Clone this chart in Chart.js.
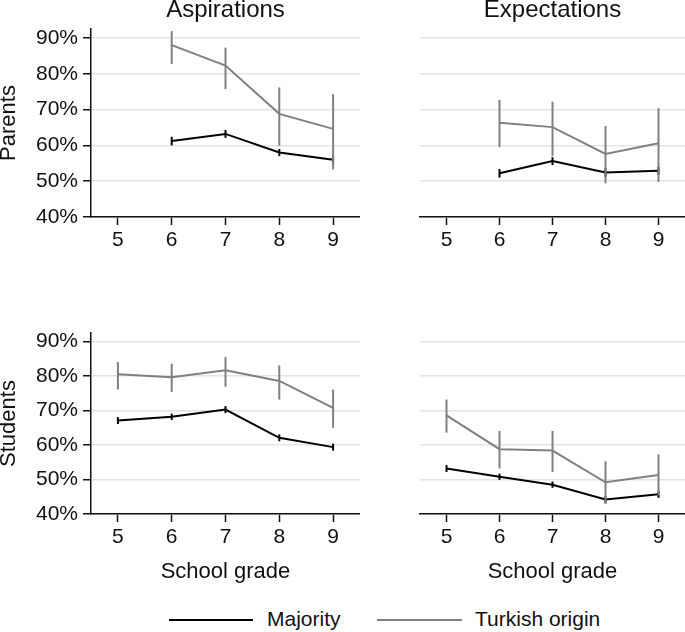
<!DOCTYPE html>
<html>
<head>
<meta charset="utf-8">
<script src="https://cdn.jsdelivr.net/npm/chart.js@4.4.1/dist/chart.umd.min.js"></script>
<style>
  body { margin: 0; background: #fff; }
  #wrap { position: relative; width: 685px; height: 632px; background: #fff; overflow: hidden;
          font-family: 'Liberation Sans', Arial, sans-serif; color: #111; }
  canvas { position: absolute; }
  .leg-line { position: absolute; height: 0; border-top: 2px solid #000; }
  .leg-text { position: absolute; font-size: 21px; line-height: 24px; }
</style>
</head>
<body>
<div id="wrap">
  <canvas id="pa" width="360" height="262" style="left:0;top:0"></canvas>
  <canvas id="pe" width="325" height="262" style="left:360px;top:0"></canvas>
  <canvas id="sa" width="360" height="300" style="left:0;top:300px"></canvas>
  <canvas id="se" width="325" height="300" style="left:360px;top:300px"></canvas>

  <div class="leg-line" style="left:169px;top:619px;width:84px;border-color:#000"></div>
  <div class="leg-text" style="left:267px;top:607px">Majority</div>
  <div class="leg-line" style="left:377px;top:619px;width:85px;border-color:#808080"></div>
  <div class="leg-text" style="left:475px;top:607px">Turkish origin</div>
</div>
<script>
// ── data ──
const gradesParents = [6, 7, 8, 9];
const gradesStudents = [5, 6, 7, 8, 9];
const xTicks = [5, 6, 7, 8, 9];
const yTicks = [40, 50, 60, 70, 80, 90];

// Parents – aspirations
const paMajority   = [61.2, 63.2, 58.0, 56.0];
const paMajorityLo = [60.0, 62.1, 57.0, 54.9];
const paMajorityHi = [62.4, 64.3, 59.0, 57.1];
const paTurkish    = [88.0, 82.3, 68.8, 64.6];
const paTurkishLo  = [82.7, 75.7, 59.9, 53.3];
const paTurkishHi  = [91.9, 87.3, 76.2, 74.3];

// Parents – expectations
const peMajority   = [52.2, 55.6, 52.4, 52.9];
const peMajorityLo = [51.0, 54.5, 51.2, 51.8];
const peMajorityHi = [53.4, 56.7, 53.6, 54.0];
const peTurkish    = [66.3, 65.1, 57.6, 60.6];
const peTurkishLo  = [59.5, 57.0, 49.4, 49.8];
const peTurkishHi  = [72.7, 72.2, 65.4, 70.4];

// Students – aspirations
const saMajority   = [67.1, 68.2, 70.3, 62.1, 59.4];
const saMajorityLo = [66.1, 67.3, 69.3, 61.1, 58.4];
const saMajorityHi = [68.1, 69.1, 71.3, 63.1, 60.4];
const saTurkish    = [80.5, 79.7, 81.7, 78.6, 70.8];
const saTurkishLo  = [76.1, 75.4, 76.9, 73.2, 65.0];
const saTurkishHi  = [84.1, 83.6, 85.5, 83.1, 76.1];

// Students – expectations
const seMajority   = [53.2, 50.8, 48.5, 44.2, 45.7];
const seMajorityLo = [52.2, 49.9, 47.6, 43.1, 44.7];
const seMajorityHi = [54.2, 51.7, 49.4, 45.3, 46.7];
const seTurkish    = [68.6, 58.8, 58.4, 49.2, 51.3];
const seTurkishLo  = [63.6, 53.2, 52.2, 43.0, 45.4];
const seTurkishHi  = [73.2, 64.1, 64.1, 55.3, 57.3];

Chart.defaults.font.family = "'Liberation Sans', Arial, sans-serif";
Chart.defaults.color = '#111';

// vertical CI bars, placed through the chart's own scales
const errorBars = {
  id: 'errorBars',
  afterDatasetsDraw(chart) {
    const { ctx, scales: { x, y } } = chart;
    chart.data.datasets.forEach((ds) => {
      ctx.save();
      ctx.strokeStyle = ds.borderColor;
      ctx.lineWidth = 2;
      ds.data.forEach((p, i) => {
        const px = x.getPixelForValue(p.x);
        ctx.beginPath();
        ctx.moveTo(px, y.getPixelForValue(ds.lo[i]));
        ctx.lineTo(px, y.getPixelForValue(ds.hi[i]));
        ctx.stroke();
      });
      ctx.restore();
    });
  }
};

const pts = (xs, ys) => xs.map((g, i) => ({ x: g, y: ys[i] }));

function panel(id, cfg) {
  const left = cfg.left;
  const bottom = cfg.bottom;
  return new Chart(document.getElementById(id), {
    type: 'line',
    data: {
      datasets: [
        { label: 'Majority', data: pts(cfg.grades, cfg.maj), lo: cfg.majLo, hi: cfg.majHi,
          borderColor: '#000', borderWidth: 2, pointRadius: 0, tension: 0 },
        { label: 'Turkish origin', data: pts(cfg.grades, cfg.tur), lo: cfg.turLo, hi: cfg.turHi,
          borderColor: '#808080', borderWidth: 2, pointRadius: 0, tension: 0 },
      ]
    },
    options: {
      responsive: false,
      animation: false,
      devicePixelRatio: 1,
      layout: { padding: { top: cfg.padTop || 0, left: 0, right: 0, bottom: 0 } },
      plugins: {
        legend: { display: false },
        tooltip: { enabled: false },
        title: {
          display: !!cfg.title,
          text: cfg.title,
          fullSize: false,
          color: '#111',
          font: { size: 24, weight: 'normal', lineHeight: 0.85 },
          padding: { top: 0, bottom: 8.6 },
        },
      },
      scales: {
        x: {
          type: 'linear',
          min: 4.5, max: 9.5,
          afterFit: (s) => { s.height = bottom; },
          afterBuildTicks: (s) => { s.ticks = xTicks.map((v) => ({ value: v })); },
          border: { display: true, color: '#111', width: 1.5 },
          grid: { drawOnChartArea: false, drawTicks: true, tickLength: 8, tickColor: '#111', tickWidth: 1.5 },
          ticks: { padding: 5, color: '#111', font: { size: 21, lineHeight: 1 } },
          title: {
            display: !!cfg.xTitle,
            text: cfg.xTitle,
            color: '#111',
            font: { size: 22, lineHeight: 1 },
            padding: { top: 0, bottom: 17 },
          },
        },
        y: {
          type: 'linear',
          min: 40, max: 92.5,
          afterFit: (s) => { s.width = left; },
          afterBuildTicks: (s) => { s.ticks = yTicks.map((v) => ({ value: v })); },
          border: { display: !!cfg.yTitle, color: '#111', width: 1.5 },
          grid: { color: '#e4e4e4', lineWidth: 1.5, drawTicks: !!cfg.yTitle,
                  tickLength: 8, tickColor: '#111', tickWidth: 1.5 },
          ticks: { display: !!cfg.yTitle, padding: 5, color: '#111',
                   font: { size: 21, lineHeight: 1 },
                   callback: (v) => v + '%' },
          title: {
            display: !!cfg.yTitle,
            text: cfg.yTitle,
            color: '#111',
            font: { size: 22, lineHeight: 0.82 },
            padding: { top: 0, bottom: 0 },
          },
        },
      },
    },
    plugins: [errorBars],
  });
}

panel('pa', { grades: gradesParents, maj: paMajority, majLo: paMajorityLo, majHi: paMajorityHi,
  tur: paTurkish, turLo: paTurkishLo, turHi: paTurkishHi,
  title: 'Aspirations', yTitle: 'Parents', left: 91, bottom: 45 });
panel('pe', { grades: gradesParents, maj: peMajority, majLo: peMajorityLo, majHi: peMajorityHi,
  tur: peTurkish, turLo: peTurkishLo, turHi: peTurkishHi,
  title: 'Expectations', left: 60, bottom: 45 });
panel('sa', { grades: gradesStudents, maj: saMajority, majLo: saMajorityLo, majHi: saMajorityHi,
  tur: saTurkish, turLo: saTurkishLo, turHi: saTurkishHi,
  yTitle: 'Students', xTitle: 'School grade', left: 91, bottom: 86, padTop: 33 });
panel('se', { grades: gradesStudents, maj: seMajority, majLo: seMajorityLo, majHi: seMajorityHi,
  tur: seTurkish, turLo: seTurkishLo, turHi: seTurkishHi,
  xTitle: 'School grade', left: 60, bottom: 86, padTop: 33 });
</script>
</body>
</html>
